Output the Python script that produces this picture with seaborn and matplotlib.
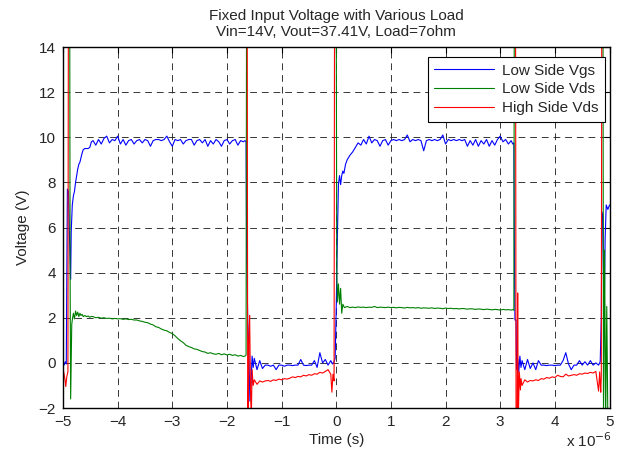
import matplotlib
matplotlib.use('Agg')
import matplotlib.pyplot as plt
import pandas as pd
import seaborn as sns

# time in microseconds; 37.4 = switch node at Vout (off the top of the chart)
t_on1 = [-4.45, -4.40, -4.35, -4.30, -4.25, -4.20, -4.15, -4.10, -4.05, -4.00,
         -3.95, -3.90, -3.85, -3.80, -3.75, -3.70, -3.65, -3.60, -3.55, -3.50,
         -3.45, -3.40, -3.35, -3.30, -3.25, -3.20, -3.15, -3.10, -3.05, -3.00,
         -2.95, -2.90, -2.85, -2.80, -2.75, -2.70, -2.65, -2.60, -2.55, -2.50,
         -2.45, -2.40, -2.35, -2.30, -2.25, -2.20, -2.15, -2.10, -2.05, -2.00,
         -1.95, -1.90, -1.85, -1.80, -1.75, -1.70]
t_off1 = [-1.50, -1.45, -1.40, -1.35, -1.30, -1.25, -1.20, -1.15, -1.10, -1.05,
          -1.00, -0.95, -0.90, -0.85, -0.80, -0.75, -0.70, -0.65, -0.60, -0.55,
          -0.50, -0.45, -0.40, -0.35, -0.30, -0.25, -0.20, -0.15, -0.10]
t_on2 = [0.20, 0.25, 0.30, 0.35, 0.40, 0.45, 0.50, 0.55, 0.60, 0.65,
         0.70, 0.75, 0.80, 0.85, 0.90, 0.95, 1.00, 1.05, 1.10, 1.15,
         1.20, 1.25, 1.30, 1.35, 1.40, 1.45, 1.50, 1.55, 1.60, 1.65,
         1.70, 1.75, 1.80, 1.85, 1.90, 1.95, 2.00, 2.05, 2.10, 2.15,
         2.20, 2.25, 2.30, 2.35, 2.40, 2.45, 2.50, 2.55, 2.60, 2.65,
         2.70, 2.75, 2.80, 2.85, 2.90, 2.95, 3.00, 3.05, 3.10, 3.15,
         3.20]
t_off2 = [3.40, 3.45, 3.50, 3.55, 3.60, 3.65, 3.70, 3.75, 3.80, 3.85,
          3.90, 3.95, 4.00, 4.05, 4.10, 4.15, 4.20, 4.25, 4.30, 4.35,
          4.40, 4.45, 4.50, 4.55, 4.60, 4.65, 4.70, 4.75, 4.80]

# Low Side Vgs
t_vgs_a = [-5.00, -4.98, -4.96, -4.94, -4.93, -4.92, -4.90, -4.88, -4.86, -4.85,
           -4.83, -4.81, -4.79, -4.77, -4.75, -4.73, -4.71, -4.69, -4.67, -4.65,
           -4.63, -4.60, -4.57, -4.54, -4.51, -4.48]
v_vgs_a = [0.0, -0.1, 0.05, -0.05, 4.0, 7.7, 7.6, 5.5, 3.7, 5.8,
           7.0, 7.4, 7.6, 8.0, 8.3, 8.6, 8.8, 8.9, 9.1, 9.3,
           9.45, 9.5, 9.5, 9.5, 9.55, 9.8]
vgs_on1 = [9.85, 9.65, 9.9, 9.7, 9.95, 10.05, 9.75, 9.9, 9.85, 10.05,
           9.7, 9.9, 9.65, 9.85, 9.9, 9.7, 9.85, 9.9, 9.75, 9.9,
           9.85, 9.6, 9.85, 9.9, 9.9, 9.85, 9.9, 10.05, 9.8, 9.6,
           9.9, 9.85, 9.9, 9.7, 9.85, 9.9, 9.9, 9.65, 9.85, 9.9,
           9.75, 9.9, 9.6, 9.85, 9.7, 9.9, 9.8, 9.6, 9.85, 9.9,
           9.7, 9.85, 9.9, 9.65, 9.85, 9.8]
t_vgs_b = [-1.67, -1.65, -1.64, -1.62, -1.60, -1.58, -1.56, -1.54, -1.52]
v_vgs_b = [9.85, 9.8, 5.0, 1.9, 0.6, -1.7, -1.0, 0.3, -0.2]
vgs_off1 = [0.2, -0.3, 0.1, -0.25, -0.1, -0.1, -0.15, -0.1, -0.3, -0.1,
            -0.1, -0.15, -0.1, -0.1, -0.12, -0.1, -0.1, 0.15, -0.1, -0.12,
            -0.1, -0.1, 0.1, -0.2, 0.45, 0.0, 0.15, -0.1, 0.1]
t_vgs_c = [-0.07, -0.04, -0.02, 0.00, 0.02, 0.04, 0.06, 0.08, 0.10, 0.12, 0.14, 0.17]
v_vgs_c = [-0.05, 0.05, 0.2, 2.5, 5.5, 7.9, 8.3, 7.9, 8.3, 8.5, 8.4, 8.8]
vgs_on2 = [9.0, 9.2, 9.35, 9.55, 9.75, 9.65, 9.9, 9.7, 10.05, 9.75,
           9.9, 9.85, 9.6, 9.85, 9.9, 9.65, 9.85, 9.9, 9.85, 9.9,
           9.85, 9.9, 10.1, 9.8, 9.9, 9.85, 9.9, 9.85, 9.4, 9.85,
           9.9, 9.85, 9.9, 9.85, 9.9, 10.1, 9.7, 9.9, 9.85, 9.9,
           9.85, 9.9, 9.85, 9.9, 9.6, 9.85, 9.65, 9.9, 9.6, 9.85,
           9.7, 9.9, 9.6, 9.85, 9.65, 9.9, 10.05, 9.8, 9.9, 9.7,
           9.85]
t_vgs_d = [3.23, 3.25, 3.26, 3.27, 3.29, 3.30, 3.32, 3.34, 3.36, 3.38]
v_vgs_d = [9.7, 9.75, 5.0, 1.9, 1.9, -0.3, 0.2, -0.4, 0.3, -0.2]
vgs_off2 = [0.1, -0.3, 0.15, -0.25, 0.0, -0.3, 0.1, -0.1, -0.1, -0.12,
            -0.1, -0.1, -0.12, -0.1, -0.1, 0.1, 0.45, -0.05, -0.3, -0.1,
            -0.1, 0.1, -0.1, 0.05, -0.1, 0.1, -0.1, 0.0, -0.1]
t_vgs_e = [4.83, 4.85, 4.86, 4.88, 4.90, 4.92, 4.94, 4.97, 5.00]
v_vgs_e = [0.05, 2.0, 6.7, 6.5, 1.5, 5.5, 7.0, 6.8, 7.0]

# Low Side Vds
t_vds_a = [-5.00, -4.89, -4.87, -4.86, -4.84, -4.83, -4.81, -4.79, -4.77, -4.75,
           -4.73, -4.71, -4.69, -4.67, -4.65, -4.63, -4.60, -4.57, -4.54, -4.51, -4.48]
v_vds_a = [37.4, 37.4, 4.0, -1.6, 1.7, 1.9, 2.2, 1.95, 2.3, 2.1,
           2.25, 2.05, 2.2, 2.1, 2.15, 2.05, 2.1, 2.05, 2.08, 2.02, 2.06]
vds_on1 = [2.05, 2.0, 2.02, 1.98, 2.0, 1.97, 1.98, 1.95, 1.97, 1.95,
           1.96, 1.93, 1.95, 1.92, 1.93, 1.9, 1.9, 1.86, 1.84, 1.8,
           1.78, 1.72, 1.68, 1.6, 1.57, 1.5, 1.45, 1.42, 1.35, 1.3,
           1.2, 1.08, 0.98, 0.9, 0.78, 0.72, 0.68, 0.62, 0.6, 0.55,
           0.5, 0.48, 0.42, 0.45, 0.4, 0.38, 0.42, 0.36, 0.4, 0.35,
           0.38, 0.33, 0.36, 0.3, 0.33, 0.28]
t_vds_b = [-1.67, -1.65, -1.63, -0.02, 0.01, 0.02, 0.04, 0.06, 0.08, 0.10, 0.12, 0.15]
v_vds_b = [0.3, 0.35, 37.4, 37.4, 4.0, 2.7, 3.5, 2.6, 3.3, 2.2, 2.6, 2.45]
vds_on2 = [2.5, 2.45, 2.47, 2.45, 2.48, 2.46, 2.47, 2.45, 2.47, 2.46,
           2.5, 2.45, 2.47, 2.46, 2.45, 2.47, 2.45, 2.46, 2.44, 2.46,
           2.45, 2.43, 2.46, 2.44, 2.45, 2.43, 2.45, 2.42, 2.44, 2.43,
           2.42, 2.44, 2.41, 2.43, 2.42, 2.4, 2.43, 2.41, 2.42, 2.4,
           2.41, 2.39, 2.41, 2.4, 2.38, 2.4, 2.39, 2.37, 2.39, 2.38,
           2.36, 2.38, 2.37, 2.35, 2.37, 2.36, 2.34, 2.37, 2.35, 2.36,
           2.34]
t_vds_c = [3.23, 3.25, 3.27, 4.87, 4.89, 4.91, 4.93, 4.95, 4.97, 5.00]
v_vds_c = [2.36, 2.33, 37.4, 37.4, -2.6, 5.0, -2.6, 2.5, -2.6, -2.6]

# High Side Vds
t_hvds_a = [-5.00, -4.98, -4.96, -4.95, -4.93, -4.91, -4.89, -1.64]
v_hvds_a = [-0.25, -0.5, -0.8, -1.05, -0.6, -0.4, 37.4, 37.4]
t_hvds_b = [-1.62, -1.61, -1.60, -1.585, -1.57, -1.555, -1.54, -1.52]
v_hvds_b = [-2.6, -2.6, 1.0, 2.1, -1.0, -2.6, -0.3, -1.0]
hvds_off1 = [-0.75, -0.95, -0.8, -0.85, -0.8, -0.78, -0.82, -0.75, -0.78, -0.72,
             -0.75, -0.7, -0.72, -0.68, -0.62, -0.65, -0.6, -0.62, -0.55, -0.58,
             -0.52, -0.55, -0.48, -0.5, -0.42, -0.45, -0.38, -0.3, -0.5]
t_hvds_c = [-0.08, -0.06, -0.04, -0.02, 3.27]
v_hvds_c = [-1.3, -0.5, -0.8, 37.4, 37.4]
t_hvds_d = [3.29, 3.31, 3.32, 3.33, 3.35, 3.37, 3.38]
v_hvds_d = [-2.6, -2.6, 3.1, -2.6, -0.4, -1.2, -0.7]
hvds_off2 = [-1.0, -0.75, -0.85, -0.78, -0.8, -0.75, -0.78, -0.7, -0.72, -0.65,
             -0.68, -0.62, -0.65, -0.55, -0.6, -0.62, -0.5, -0.58, -0.55, -0.52,
             -0.55, -0.48, -0.5, -0.45, -0.47, -0.42, -0.45, -0.38, -1.25]
t_hvds_e = [4.82, 4.83, 4.84, 4.85, 4.87, 5.00]
v_hvds_e = [-0.4, -0.9, -1.3, -0.6, 37.4, 37.4]

series_names = ['Low Side Vgs', 'Low Side Vds', 'High Side Vds']
colors = ['#0000ff', '#008000', '#ff0000']
x_ticks = [-5, -4, -3, -2, -1, 0, 1, 2, 3, 4, 5]
y_ticks = [-2, 0, 2, 4, 6, 8, 10, 12, 14]

t_vgs = t_vgs_a + t_on1 + t_vgs_b + t_off1 + t_vgs_c + t_on2 + t_vgs_d + t_off2 + t_vgs_e
v_vgs = v_vgs_a + vgs_on1 + v_vgs_b + vgs_off1 + v_vgs_c + vgs_on2 + v_vgs_d + vgs_off2 + v_vgs_e
t_vds = t_vds_a + t_on1 + t_vds_b + t_on2 + t_vds_c
v_vds = v_vds_a + vds_on1 + v_vds_b + vds_on2 + v_vds_c
t_hvds = t_hvds_a + t_hvds_b + t_off1 + t_hvds_c + t_hvds_d + t_off2 + t_hvds_e
v_hvds = v_hvds_a + v_hvds_b + hvds_off1 + v_hvds_c + v_hvds_d + hvds_off2 + v_hvds_e

df = pd.concat([
    pd.DataFrame({'t': t_vgs, 'v': v_vgs, 'series': series_names[0]}),
    pd.DataFrame({'t': t_vds, 'v': v_vds, 'series': series_names[1]}),
    pd.DataFrame({'t': t_hvds, 'v': v_hvds, 'series': series_names[2]}),
], ignore_index=True)

sns.set_style('white', {'xtick.direction': 'in', 'ytick.direction': 'in'})
plt.rcParams['font.family'] = ['Liberation Sans', 'DejaVu Sans']

fig = plt.figure(figsize=(6.23, 4.55), dpi=100)
ax = fig.add_axes([63 / 623, 1 - 408 / 455, 546.5 / 623, 361 / 455])

sns.lineplot(data=df, x='t', y='v', hue='series', hue_order=series_names,
             palette=colors, estimator=None, sort=False, linewidth=0.8, ax=ax)

ax.set_xlim(-5, 5)
ax.set_ylim(-2, 14)
ax.set_xticks(x_ticks)
ax.set_yticks(y_ticks)
ax.tick_params(axis='both', which='both', direction='in', top=True, right=True,
               length=4, width=0.8, color='k', labelsize=11, pad=5)
for s in ax.spines.values():
    s.set_color('k')
    s.set_linewidth(1.0)

ax.grid(True, color='#222222', linestyle=(0, (7, 5)), linewidth=0.7, alpha=0.9)
ax.set_axisbelow(True)

ax.set_xlabel('Time (s)', fontsize=11, labelpad=3)
ax.set_ylabel('Voltage (V)', fontsize=11, labelpad=6)
ax.set_title('Fixed Input Voltage with Various Load\nVin=14V, Vout=37.41V, Load=7ohm',
             fontsize=11, pad=8, linespacing=1.2)
fig.text(566 / 623, 1 - 447 / 455, 'x 10$^{-6}$', fontsize=11, ha='left', va='baseline')

handles, labels = ax.get_legend_handles_labels()
leg = ax.legend(handles, labels, loc='upper right', bbox_to_anchor=(0.991, 0.972),
                borderaxespad=0, fancybox=False, framealpha=1, edgecolor='k',
                fontsize=11, handlelength=3.9, labelspacing=0.32, borderpad=0.42,
                handletextpad=0.5)
leg.get_frame().set_linewidth(0.8)

fig.savefig('out.png', dpi=100)
